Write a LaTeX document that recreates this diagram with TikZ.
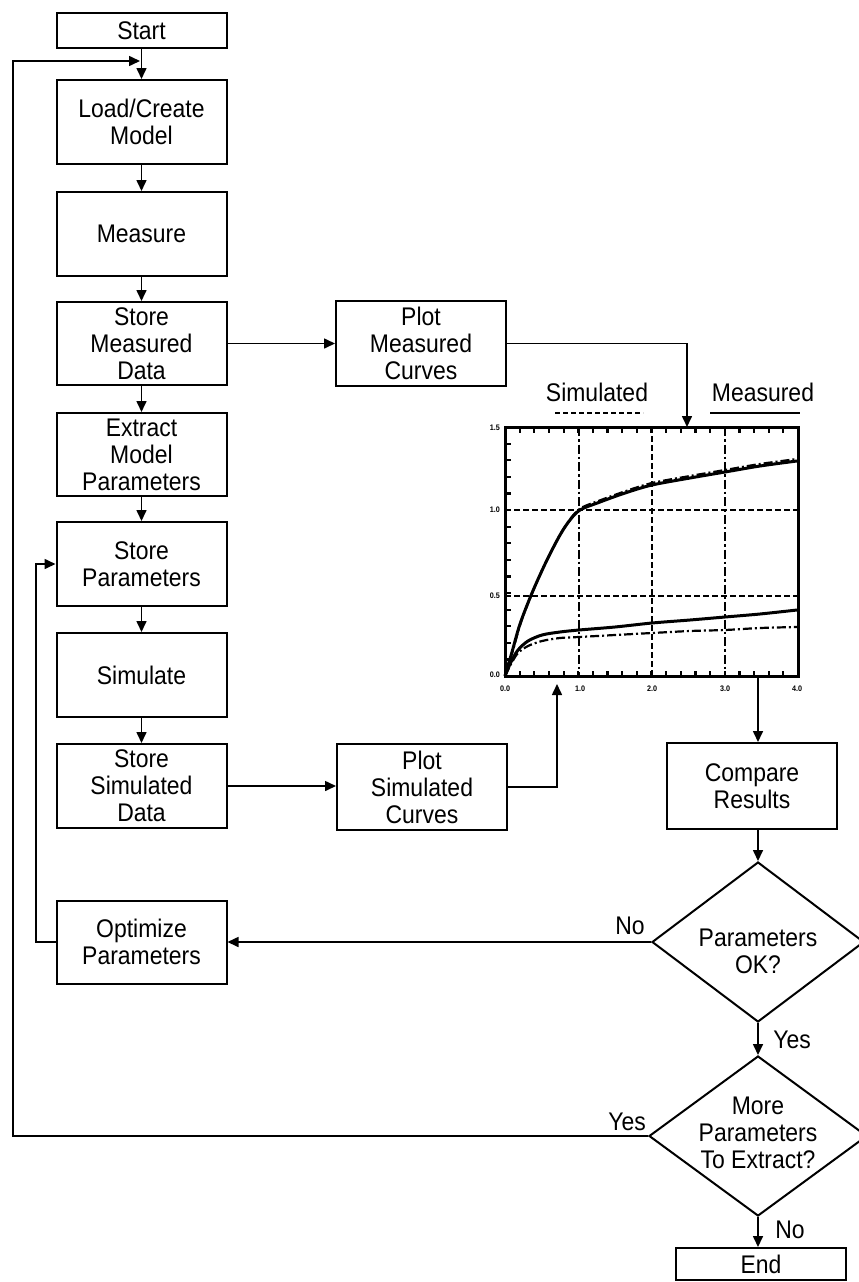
\documentclass[tikz,border=0pt]{standalone}
\usepackage{fontspec}
\setmainfont[FakeStretch=0.9]{Liberation Sans}
\usetikzlibrary{arrows.meta,shapes.geometric}
\begin{document}
\begin{tikzpicture}[x=1pt,y=-1pt,
  box/.style={draw, line width=2pt, minimum width=170pt, inner sep=0pt, align=center, font=\fontsize{25.5}{27}\selectfont},
  lbl/.style={font=\fontsize{25.5}{27}\selectfont, inner sep=0pt, align=center},
  conn/.style={line width=1.6pt},
  arr/.style={conn, -{Triangle[length=11pt,width=10pt]}},
  dia/.style={draw, diamond, line width=2pt, inner sep=0pt},
  tickln/.style={line width=2.2pt},
  ticklbl/.style={font=\bfseries\fontsize{8}{9}\selectfont, inner sep=0pt},
  majgrid/.style={line width=2.4pt, dash pattern=on 9pt off 3pt on 2.5pt off 3pt},
  mingrid/.style={line width=1.2pt, dash pattern=on 6pt off 3pt},
  meascurve/.style={line width=3pt},
  simcurve/.style={line width=2.2pt, dash pattern=on 9pt off 3pt on 2pt off 3pt}
]
\useasboundingbox (0,0) rectangle (859,1282);
\fill[white] (0,0) rectangle (859,1282);

% left column
\node[box, minimum height=35pt] (start) at (141.5,30.5) {Start};
\node[box, minimum height=84pt] (load) at (141.5,122) {Load/Create\\Model};
\node[box, minimum height=84pt] (measure) at (141.5,234) {Measure};
\node[box, minimum height=83pt] (smd) at (141.5,343.5) {Store\\Measured\\Data};
\node[box, minimum height=83pt] (extract) at (141.5,454.5) {Extract\\Model\\Parameters};
\node[box, minimum height=84pt] (storep) at (141.5,564) {Store\\Parameters};
\node[box, minimum height=84pt] (simulate) at (141.5,675) {Simulate};
\node[box, minimum height=84pt] (ssd) at (141.5,786) {Store\\Simulated\\Data};
\node[box, minimum height=83pt] (opt) at (141.5,942) {Optimize\\Parameters};

% middle column
\node[box, minimum height=85pt] (plotm) at (421,343.5) {Plot\\Measured\\Curves};
\node[box, minimum height=86pt] (plots) at (422,787) {Plot\\Simulated\\Curves};

% right column
\node[box, minimum height=86pt] (compare) at (752,786) {Compare\\Results};
\node[dia, minimum width=212pt, minimum height=160pt] (d1) at (758,942) {};
\node[lbl] (d1t) at (758,951) {Parameters\\OK?};
\node[dia, minimum width=218pt, minimum height=160pt] (d2) at (758,1136) {};
\node[lbl] (d2t) at (758,1133) {More\\Parameters\\To Extract?};
\node[box, minimum height=32pt] (end) at (761,1264) {End};

% branch labels
\node[lbl] (no1) at (630,926) {No};
\node[lbl] (yes1) at (792,1040) {Yes};
\node[lbl] (yes2) at (627,1122) {Yes};
\node[lbl] (no2) at (790,1230) {No};

% plot
\node[draw, line width=3pt, minimum width=293pt, minimum height=249pt, inner sep=0pt] (plot) at (651.5,551.5) {};
\draw[majgrid] (579,427) -- (579,676);
\draw[mingrid] (652,427) -- (652,676);
\draw[majgrid] (725,427) -- (725,676);
\draw[mingrid] (505,510) -- (798,510);
\draw[line width=2.4pt, dash pattern=on 6pt off 3pt] (505,596) -- (798,596);
\foreach \i in {1,...,19} {
  \draw[tickln] ({505+\i*14.65},427) -- ++(0,6);
  \draw[tickln] ({505+\i*14.65},676) -- ++(0,-5);
}
\foreach \j in {1,...,14} {
  \draw[tickln] (505,{427+\j*16.6}) -- ++(6,0);
}
\node[ticklbl, anchor=east] (yl15) at (500,428) {1.5};
\node[ticklbl, anchor=east] (yl10) at (500,510) {1.0};
\node[ticklbl, anchor=east] (yl05) at (500,596) {0.5};
\node[ticklbl, anchor=east] (yl00) at (500,675) {0.0};
\node[ticklbl] (xl0) at (505,689) {0.0};
\node[ticklbl] (xl1) at (580,689) {1.0};
\node[ticklbl] (xl2) at (652,689) {2.0};
\node[ticklbl] (xl3) at (725,689) {3.0};
\node[ticklbl] (xl4) at (797,689) {4.0};

% curves
\draw[meascurve] plot[smooth, tension=0.5] coordinates {(505,676) (512,652) (520,624) (532,593) (546,562) (560,535) (570,520) (580,510) (600,502) (625,493) (652,485) (690,478) (725,472) (760,466) (797,461)};
\draw[simcurve] plot[smooth, tension=0.5] coordinates {(505,675) (513,650) (521,622) (533,591) (547,560) (561,533) (571,518) (581,508) (601,500) (626,491) (652,483) (690,476) (725,470) (760,464) (797,459)};
\draw[meascurve] plot[smooth, tension=0.5] coordinates {(505,676) (511,662) (518,650) (528,641) (542,635) (560,632) (579,630) (615,627) (652,623) (690,620) (725,617) (760,614) (797,610)};
\draw[simcurve] plot[smooth, tension=0.5] coordinates {(505,676) (511,664) (518,653) (528,646) (542,641) (560,638) (579,637) (615,635) (652,633) (690,631) (725,630) (760,628) (797,627)};

% legend
\node[lbl] (simlbl) at (597,392) {Simulated};
\draw[line width=1.5pt, dash pattern=on 5pt off 3pt] (555,413) -- (643,413);
\node[lbl] (meslbl) at (763,392) {Measured};
\draw[line width=1.5pt] (710,413) -- (800,413);

% helper coordinates
\coordinate (fb) at (140,61);
\coordinate (lx) at (13,0);
\coordinate (ix) at (36,0);
\coordinate (ptop) at (687,427);
\coordinate (pbot) at (557,684);
\coordinate (pex) at (758,678);

% connectors
\draw[arr] (start) -- (load);
\draw[arr] (load) -- (measure);
\draw[arr] (measure) -- (smd);
\draw[arr] (smd) -- (extract);
\draw[arr] (extract) -- (storep);
\draw[arr] (storep) -- (simulate);
\draw[arr] (simulate) -- (ssd);
\draw[arr] (smd.east) -- (plotm.west);
\draw[arr] (ssd.east) -- (ssd.east -| plots.west);
\draw[arr] (plotm.east) -| (ptop);
\draw[arr] (plots.east) -| (pbot);
\draw[arr] (pex) -- (pex |- compare.north);
\draw[arr] (pex |- compare.south) -- (d1.north);
\draw[arr] (d1.west) -- (opt.east);
\draw[arr] (opt.west) -- (opt.west -| ix) |- (storep.west);
\draw[arr] (d1.south) -- (d2.north);
\draw[arr] (d2.south) -- (d2.south |- end.north);
\draw[arr] (d2.west) -- (d2.west -| lx) |- (fb);
\end{tikzpicture}
\end{document}
